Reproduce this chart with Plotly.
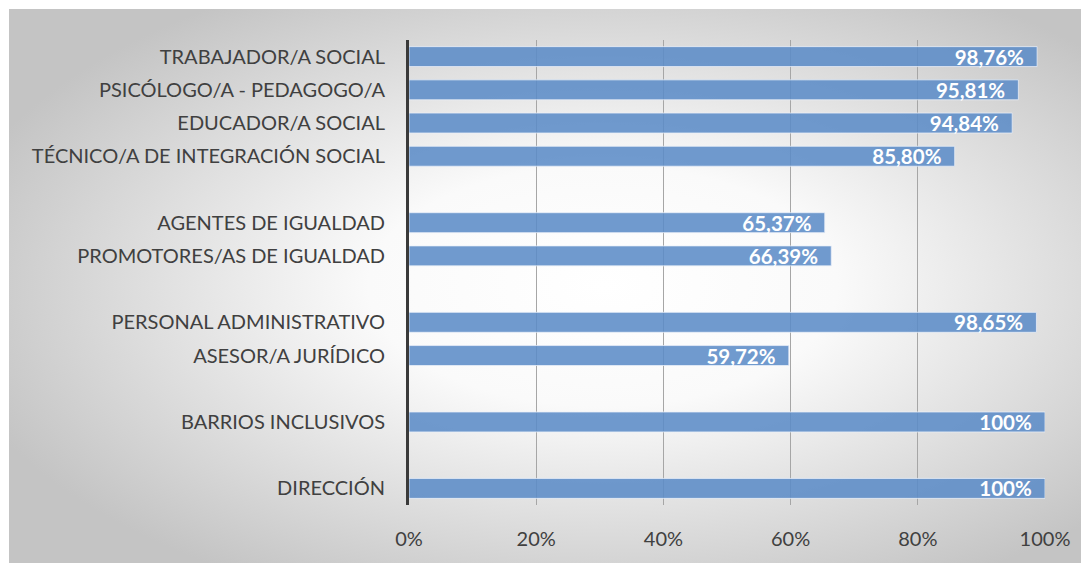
import base64
import plotly.graph_objects as go

# Data (blank rows are spacer categories)
categories = [
    "TRABAJADOR/A SOCIAL",
    "PSICÓLOGO/A - PEDAGOGO/A",
    "EDUCADOR/A SOCIAL",
    "TÉCNICO/A DE INTEGRACIÓN SOCIAL",
    " ",
    "AGENTES DE IGUALDAD",
    "PROMOTORES/AS DE IGUALDAD",
    "  ",
    "PERSONAL ADMINISTRATIVO",
    "ASESOR/A JURÍDICO",
    "   ",
    "BARRIOS INCLUSIVOS",
    "    ",
    "DIRECCIÓN",
]
values = [98.76, 95.81, 94.84, 85.80, None, 65.37, 66.39, None, 98.65, 59.72, None, 100, None, 100]
labels = ["98,76%", "95,81%", "94,84%", "85,80%", "", "65,37%", "66,39%", "",
          "98,65%", "59,72%", "", "100%", "", "100%"]
x_ticks = [0, 20, 40, 60, 80, 100]
x_ticktext = ["0%", "20%", "40%", "60%", "80%", "100%"]

FONT = "Lato, Calibri, Carlito, sans-serif"

fig = go.Figure()
fig.add_trace(go.Bar(
    y=categories,
    x=values,
    orientation="h",
    text=[t + "\u2002" if t else t for t in labels],
    textposition="inside",
    insidetextanchor="end",
    constraintext="none",
    textfont=dict(family=FONT, size=20.5, color="white", weight="bold"),
    marker=dict(color="rgba(92,140,199,0.88)",
                line=dict(color="rgba(235,240,250,0.75)", width=1)),
    cliponaxis=False,
    hoverinfo="skip",
))

# page body has an 8px margin: shift everything by it
OFF = 8
W, H = 1089 - OFF, 563 - OFF
L, R, T, B = 409 - OFF, 1045 - OFF, 40 - OFF, 505 - OFF
pw, ph = R - L, B - T

svg = """<svg xmlns='http://www.w3.org/2000/svg' width='1080' height='554' viewBox='0 0 1080 554' preserveAspectRatio='none'>
<defs><radialGradient id='g' cx='0.55' cy='0.5' r='0.62' gradientUnits='objectBoundingBox'>
<stop offset='0' stop-color='#ffffff'/>
<stop offset='0.35' stop-color='#fafafa'/>
<stop offset='1' stop-color='#c4c4c4'/>
</radialGradient></defs>
<rect x='0' y='0' width='1080' height='554' fill='url(#g)'/>
</svg>"""
src = "data:image/svg+xml;base64," + base64.b64encode(svg.encode()).decode()

gx, gy = 9 - OFF, 9 - OFF
fig.add_layout_image(dict(
    source=src, xref="paper", yref="paper",
    x=(gx - L) / pw, y=(B - gy) / ph,
    sizex=(W - gx) / pw, sizey=(H - gy) / ph,
    xanchor="left", yanchor="top", sizing="stretch", layer="below",
))

fig.update_layout(
    width=W, height=H,
    margin=dict(l=L, r=W - R, t=T, b=H - B, pad=0),
    paper_bgcolor="white",
    plot_bgcolor="rgba(0,0,0,0)",
    bargap=0.4,
    showlegend=False,
    font=dict(family=FONT, size=20, color="#404040"),
    xaxis=dict(range=[0, 100], tickvals=x_ticks, ticktext=x_ticktext,
               showgrid=True, gridcolor="#a6a6a6", gridwidth=1,
               zeroline=False, showline=False, ticks="",
               tickfont=dict(family=FONT, size=20, color="#404040"),
               ticklabelstandoff=20, fixedrange=True),
    yaxis=dict(categoryorder="array", categoryarray=categories,
               autorange="reversed", showgrid=False, zeroline=False,
               showline=True, linecolor="#3a3a3a", linewidth=3,
               ticks="", ticklabelstandoff=17,
               tickfont=dict(family=FONT, size=20, color="#404040"),
               fixedrange=True),
)

fig.write_html("out.html")
